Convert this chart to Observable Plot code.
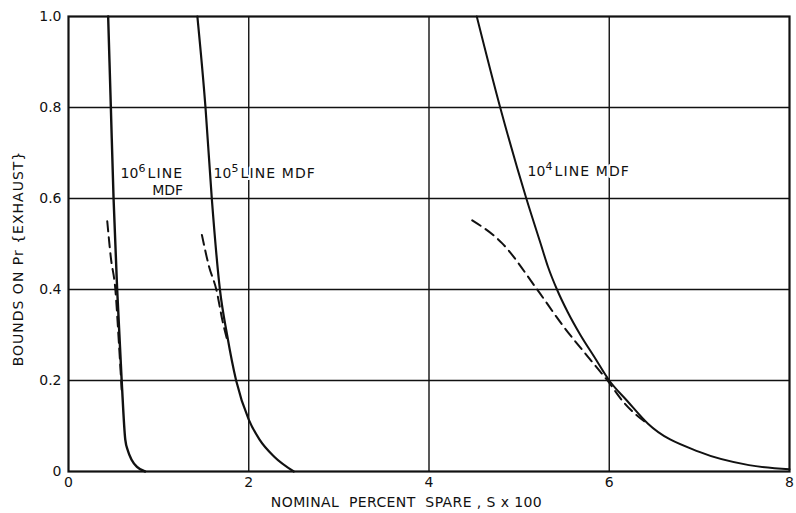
<!DOCTYPE html>
<html>
<head>
<meta charset="utf-8">
<script src="https://cdn.jsdelivr.net/npm/d3@7"></script>
<script src="https://cdn.jsdelivr.net/npm/@observablehq/plot@0.6"></script>
<style>
  html, body { margin: 0; padding: 0; background: #fff; }
  #chart { width: 796px; height: 513px; }
</style>
</head>
<body>
<div id="chart"></div>
<script>
// 10^6 line MDF
const s6x = [0.44, 0.47, 0.50, 0.54, 0.59, 0.63, 0.66, 0.70, 0.76, 0.85];
const s6y = [1.00, 0.80, 0.60, 0.40, 0.20, 0.07, 0.045, 0.026, 0.01, 0.0];
const d6x = [0.43, 0.47, 0.52, 0.56, 0.59];
const d6y = [0.55, 0.47, 0.40, 0.28, 0.18];
// 10^5 line MDF
const s5x = [1.43, 1.52, 1.59, 1.68, 1.76, 1.86, 2.00, 2.12, 2.28, 2.50];
const s5y = [1.00, 0.80, 0.60, 0.40, 0.30, 0.20, 0.114, 0.07, 0.033, 0.0];
const d5x = [1.48, 1.56, 1.64, 1.71, 1.76];
const d5y = [0.52, 0.45, 0.40, 0.33, 0.29];
// 10^4 line MDF
const s4x = [4.53, 4.79, 5.08, 5.24, 5.32, 5.42, 5.54, 5.68, 5.84, 6.00, 6.20, 6.43, 7.00, 7.55, 8.00];
const s4y = [1.00, 0.80, 0.60, 0.50, 0.45, 0.40, 0.35, 0.30, 0.25, 0.20, 0.155, 0.105, 0.043, 0.014, 0.005];
const d4x = [4.48, 4.81, 5.20, 5.48, 5.81, 5.98, 6.16, 6.43];
const d4y = [0.552, 0.502, 0.40, 0.322, 0.241, 0.20, 0.152, 0.104];

const xTicks = [0, 2, 4, 6, 8];
const yTicks = [0, 0.2, 0.4, 0.6, 0.8, 1.0];
const xGrid = [2, 4, 6];
const yGrid = [0.2, 0.4, 0.6, 0.8];

// curve labels: "10" + superscript exponent + rest
const labelBase = ["10", "10", "10"];
const labelSup = ["6", "5", "4"];
const labelRest = ["LINE", "LINE MDF", "LINE MDF"];
const labelX = [0.577, 1.609, 5.093];
const labelY = [0.655, 0.655, 0.659];
const subLabel = ["MDF"];
const subLabelX = [1.10];
const subLabelY = [0.618];

const xTitle = "NOMINAL  PERCENT  SPARE , S x 100";
const yTitle = "BOUNDS ON Pr {EXHAUST}";
const yTitlePos = [0.468];

const toPts = (xs, ys) => xs.map((x, i) => ({x, y: ys[i]}));
const labels = labelBase.map((b, i) => ({b, s: labelSup[i], r: labelRest[i], x: labelX[i], y: labelY[i]}));
const subs = subLabel.map((t, i) => ({t, x: subLabelX[i], y: subLabelY[i]}));

const ink = "#111";
const font = "DejaVu Sans, sans-serif";
const halo = {stroke: "white", strokeWidth: 4, fill: ink};

const chart = Plot.plot({
  width: 796,
  height: 513,
  marginTop: 16,
  marginBottom: 42,
  marginLeft: 68,
  marginRight: 7,
  style: {fontFamily: font, fontSize: "14px", background: "#fff", color: ink},
  x: {domain: [0, 8]},
  y: {domain: [0, 1]},
  marks: [
    Plot.ruleX(xGrid, {stroke: ink, strokeWidth: 1.4}),
    Plot.ruleY(yGrid, {stroke: ink, strokeWidth: 1.4}),
    Plot.frame({stroke: ink, strokeWidth: 2.2}),
    Plot.axisX(xTicks, {tickSize: 0, tickPadding: 6, label: null, fontSize: 14, tickFormat: d => String(d)}),
    Plot.axisY(yTicks, {tickSize: 0, tickPadding: 7, label: null, fontSize: 14, tickFormat: d => d === 0 ? "0" : d.toFixed(1)}),
    Plot.line(toPts(s6x, s6y), {x: "x", y: "y", curve: "monotone-x", stroke: ink, strokeWidth: 2.4}),
    Plot.line(toPts(d6x, d6y), {x: "x", y: "y", curve: "monotone-x", stroke: ink, strokeWidth: 2, strokeDasharray: "10,6"}),
    Plot.line(toPts(s5x, s5y), {x: "x", y: "y", curve: "monotone-x", stroke: ink, strokeWidth: 2.2}),
    Plot.line(toPts(d5x, d5y), {x: "x", y: "y", curve: "monotone-x", stroke: ink, strokeWidth: 2, strokeDasharray: "10,6"}),
    Plot.line(toPts(s4x, s4y), {x: "x", y: "y", curve: "monotone-x", stroke: ink, strokeWidth: 2}),
    Plot.line(toPts(d4x, d4y), {x: "x", y: "y", curve: "monotone-x", stroke: ink, strokeWidth: 2, strokeDasharray: "10,6"}),
    Plot.text(labels, {x: "x", y: "y", text: "b", textAnchor: "start", lineAnchor: "middle", fontSize: 14, ...halo}),
    Plot.text(labels, {x: "x", y: "y", text: "s", textAnchor: "start", lineAnchor: "middle", fontSize: 11, dx: 18, dy: -5, ...halo}),
    Plot.text(labels, {x: "x", y: "y", text: "r", textAnchor: "start", lineAnchor: "middle", fontSize: 14, dx: 27, ...halo, className: "rest"}),
    Plot.text(subs, {x: "x", y: "y", text: "t", textAnchor: "middle", lineAnchor: "middle", fontSize: 14, ...halo}),
    Plot.text([xTitle], {x: [3.75], frameAnchor: "bottom", dy: 31, textAnchor: "middle", lineAnchor: "middle", fontSize: 14, fill: ink}),
    Plot.text([yTitle], {y: yTitlePos, frameAnchor: "left", dx: -50, rotate: -90, textAnchor: "middle", lineAnchor: "middle", fontSize: 14, fill: ink})
  ]
});
// widen letter spacing to match the lettering-guide style of the original
chart.querySelectorAll("text").forEach(t => {
  const s = t.textContent;
  if (s === yTitle) t.setAttribute("letter-spacing", "1");
  if (s === xTitle) t.setAttribute("letter-spacing", "0.4");
  if (labelRest.includes(s)) t.setAttribute("letter-spacing", "1.1");
});
document.getElementById("chart").appendChild(chart);
</script>
</body>
</html>
